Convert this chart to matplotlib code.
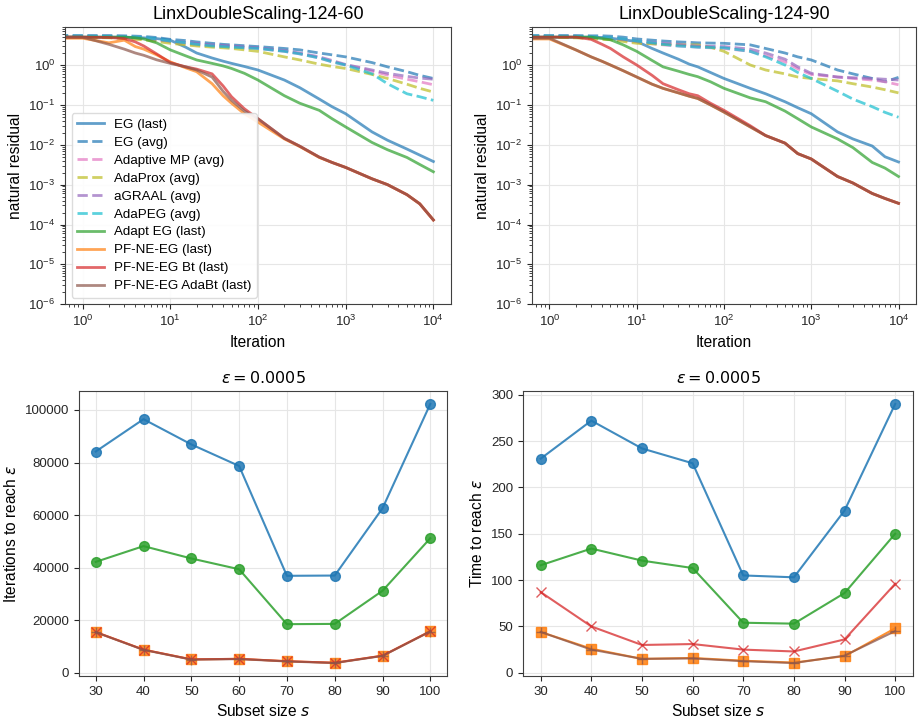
import numpy as np
import matplotlib
matplotlib.use("Agg")
from matplotlib import pyplot as plt

plt.rcParams['font.family'] = ['Liberation Sans', 'DejaVu Sans']
plt.rcParams['axes.edgecolor'] = '0.25'
plt.rcParams['xtick.color'] = '0.15'
plt.rcParams['ytick.color'] = '0.15'

# iteration checkpoints (0 is clipped on the log axis)
iters = [0, 1, 2, 3, 4, 5, 7, 10, 15, 20, 30, 40, 50, 70, 100, 200, 300, 500, 700,
         1000, 2000, 3000, 5000, 7000, 10000]

# LinxDoubleScaling-124-60
eg_last_60 = [5.0, 5.0, 5.0, 5.0, 4.9, 4.8, 4.6, 4.2, 2.8, 2.0, 1.5, 1.25, 1.1, 0.92, 0.75, 0.42, 0.27, 0.14, 0.09, 0.06, 0.021, 0.013, 0.0078, 0.0055, 0.0038]
eg_avg_60 = [5.5, 5.5, 5.5, 5.4, 5.3, 5.2, 4.9, 4.4, 4.1, 3.8, 3.5, 3.3, 3.2, 3.05, 2.9, 2.6, 2.4, 2.0, 1.8, 1.6, 1.15, 0.9, 0.68, 0.55, 0.46]
adamp_60 = [5.0, 5.0, 4.9, 4.8, 4.7, 4.6, 4.3, 3.8, 3.4, 3.2, 3.0, 2.9, 2.8, 2.7, 2.6, 2.2, 1.9, 1.5, 1.2, 1.0, 0.7, 0.56, 0.44, 0.38, 0.32]
adaprox_60 = [5.0, 5.0, 4.8, 4.6, 4.4, 4.3, 3.9, 3.5, 3.2, 3.0, 2.8, 2.7, 2.6, 2.4, 2.2, 1.6, 1.34, 1.05, 0.92, 0.82, 0.58, 0.46, 0.33, 0.26, 0.21]
agraal_60 = [5.2, 5.2, 5.1, 5.0, 4.9, 4.8, 4.4, 4.0, 3.7, 3.5, 3.2, 3.1, 3.0, 2.85, 2.7, 2.3, 2.0, 1.6, 1.3, 1.03, 0.75, 0.62, 0.52, 0.47, 0.44]
adapeg_60 = [5.3, 5.3, 5.2, 5.1, 5.0, 4.9, 4.5, 4.0, 3.6, 3.3, 3.0, 2.9, 2.8, 2.7, 2.6, 2.2, 1.9, 1.5, 1.2, 1.0, 0.6, 0.34, 0.19, 0.16, 0.13]
adapteg_60 = [5.0, 5.0, 5.0, 5.0, 4.8, 4.5, 3.6, 2.4, 1.7, 1.34, 1.1, 0.95, 0.82, 0.62, 0.42, 0.17, 0.11, 0.073, 0.045, 0.028, 0.0114, 0.0075, 0.0048, 0.0032, 0.0021]
pf_60 = [4.7, 4.7, 3.6, 4.2, 2.9, 2.5, 1.8, 1.2, 0.85, 0.68, 0.34, 0.17, 0.11, 0.06, 0.037, 0.014, 0.009, 0.0048, 0.0036, 0.0027, 0.0014, 0.001, 0.00056, 0.00033, 0.00013]
pfbt_60 = [5.0, 5.0, 4.9, 4.6, 3.8, 3.0, 1.9, 1.15, 0.9, 0.79, 0.6, 0.3, 0.16, 0.08, 0.045, 0.0145, 0.0092, 0.0049, 0.0036, 0.0027, 0.0014, 0.001, 0.00056, 0.00033, 0.00013]
pfada_60 = [5.0, 5.0, 3.3, 2.5, 2.0, 1.75, 1.35, 1.1, 0.9, 0.75, 0.5, 0.22, 0.13, 0.07, 0.045, 0.0145, 0.0092, 0.0049, 0.0036, 0.0027, 0.0014, 0.001, 0.00056, 0.00033, 0.00013]

# LinxDoubleScaling-124-90
eg_last_90 = [5.0, 5.0, 5.0, 5.0, 4.9, 4.7, 4.3, 3.9, 2.6, 2.0, 1.4, 1.05, 0.9, 0.65, 0.46, 0.26, 0.19, 0.12, 0.085, 0.06, 0.021, 0.014, 0.0093, 0.005, 0.0037]
eg_avg_90 = [5.5, 5.5, 5.5, 5.4, 5.4, 5.3, 5.0, 4.5, 4.2, 4.0, 3.8, 3.7, 3.6, 3.55, 3.5, 3.2, 2.6, 2.0, 1.6, 1.34, 0.75, 0.6, 0.46, 0.38, 0.49]
adamp_90 = [5.0, 5.0, 4.9, 4.8, 4.7, 4.6, 4.3, 3.8, 3.4, 3.2, 3.0, 2.9, 2.8, 2.7, 2.6, 2.2, 1.7, 1.2, 0.8, 0.58, 0.5, 0.46, 0.42, 0.38, 0.32]
adaprox_90 = [5.0, 5.0, 4.8, 4.6, 4.4, 4.3, 3.9, 3.5, 3.4, 3.3, 3.25, 3.2, 3.2, 2.8, 2.2, 1.0, 0.75, 0.6, 0.5, 0.46, 0.4, 0.34, 0.28, 0.24, 0.2]
agraal_90 = [5.2, 5.2, 5.1, 5.0, 4.9, 4.8, 4.4, 4.0, 3.7, 3.5, 3.3, 3.1, 3.0, 2.95, 2.9, 2.5, 2.0, 1.4, 0.9, 0.62, 0.5, 0.48, 0.46, 0.44, 0.42]
adapeg_90 = [5.3, 5.3, 5.2, 5.1, 5.0, 4.9, 4.5, 4.0, 3.6, 3.3, 3.0, 2.9, 2.8, 2.75, 2.7, 2.2, 1.6, 1.0, 0.65, 0.46, 0.22, 0.14, 0.09, 0.065, 0.049]
adapteg_90 = [5.0, 5.0, 5.0, 5.0, 4.6, 4.3, 3.2, 2.2, 1.3, 0.9, 0.7, 0.58, 0.51, 0.38, 0.26, 0.15, 0.12, 0.07, 0.045, 0.028, 0.014, 0.0085, 0.0036, 0.0026, 0.0016]
pf_90 = [4.5, 4.5, 2.4, 1.6, 1.24, 1.0, 0.72, 0.5, 0.33, 0.26, 0.2, 0.165, 0.145, 0.1, 0.066, 0.028, 0.017, 0.011, 0.006, 0.0044, 0.0016, 0.0011, 0.0006, 0.00045, 0.00034]
pfbt_90 = [5.0, 5.0, 5.0, 4.4, 3.3, 2.6, 1.6, 1.0, 0.55, 0.34, 0.24, 0.19, 0.17, 0.11, 0.073, 0.03, 0.017, 0.011, 0.006, 0.0044, 0.0016, 0.0011, 0.0006, 0.00045, 0.00034]
pfada_90 = [4.7, 4.7, 2.4, 1.6, 1.24, 1.0, 0.72, 0.5, 0.33, 0.26, 0.2, 0.165, 0.145, 0.1, 0.066, 0.028, 0.017, 0.011, 0.006, 0.0044, 0.0016, 0.0011, 0.0006, 0.00045, 0.00034]

# subset size experiment, eps = 0.0005
subset = [30, 40, 50, 60, 70, 80, 90, 100]
it_eg = [84200, 96500, 86900, 78700, 36900, 37000, 62600, 102300]
it_adapteg = [42200, 48200, 43500, 39400, 18500, 18600, 31200, 51200]
it_pf = [15500, 8800, 5100, 5300, 4400, 3800, 6500, 15800]
it_pfbt = [15500, 8800, 5100, 5300, 4400, 3800, 6500, 15800]
it_pfada = [15400, 8700, 5000, 5200, 4300, 3700, 6400, 15700]
t_eg = [231, 272, 242, 226, 105, 103, 175, 290]
t_adapteg = [116, 134, 121, 113, 54, 53, 86, 150]
t_pf = [44, 26, 15, 16, 13, 11, 18, 48]
t_pfbt = [87, 50, 30, 31, 25, 23, 36, 96]
t_pfada = [44, 25, 15, 15.5, 12.5, 10.5, 18.5, 45]

labels = ['EG (last)', 'EG (avg)', 'Adaptive MP (avg)', 'AdaProx (avg)', 'aGRAAL (avg)',
          'AdaPEG (avg)', 'Adapt EG (last)', 'PF-NE-EG (last)', 'PF-NE-EG Bt (last)',
          'PF-NE-EG AdaBt (last)']
colors = ['#1f77b4', '#1f77b4', '#e377c2', '#bcbd22', '#9467bd', '#17becf',
          '#2ca02c', '#ff7f0e', '#d62728', '#8c564b']
styles = ['-', '--', '--', '--', '--', '--', '-', '-', '-', '-']

fig = plt.figure(figsize=(9.24, 7.21), dpi=100)
ax1 = fig.add_axes([0.0703, 0.578, 0.4177, 0.3846])
ax2 = fig.add_axes([0.5758, 0.578, 0.4155, 0.3846])
ax3 = fig.add_axes([0.0855, 0.0624, 0.3983, 0.3953])
ax4 = fig.add_axes([0.566, 0.0624, 0.422, 0.3953])

panels = [(ax1, 'LinxDoubleScaling-124-60',
           [eg_last_60, eg_avg_60, adamp_60, adaprox_60, agraal_60, adapeg_60,
            adapteg_60, pf_60, pfbt_60, pfada_60]),
          (ax2, 'LinxDoubleScaling-124-90',
           [eg_last_90, eg_avg_90, adamp_90, adaprox_90, agraal_90, adapeg_90,
            adapteg_90, pf_90, pfbt_90, pfada_90])]

for ax, title, curves in panels:
    for y, lab, c, ls in zip(curves, labels, colors, styles):
        ax.plot(iters, y, ls, color=c, lw=2, alpha=0.7, label=lab)
    ax.set_xscale('log')
    ax.set_yscale('log')
    ax.set_xlim(10**-0.2, 10**4.2)
    ax.set_ylim(1e-6, 9)
    ax.set_title(title, fontsize=13)
    ax.set_xlabel('Iteration', fontsize=11.2)
    ax.set_ylabel('natural residual', fontsize=11.2)
    ax.tick_params(labelsize=9.5)
    ax.grid(True, color='#e6e6e6', lw=0.8)

ax1.legend(loc='lower left', fontsize=9.6, handlelength=2.0, edgecolor='0.85',
           framealpha=0.9, borderpad=0.4, labelspacing=0.42)

for ax, ylab, vals in [(ax3, r'Iterations to reach $\varepsilon$',
                        [it_eg, it_adapteg, it_pf, it_pfbt, it_pfada]),
                       (ax4, r'Time to reach $\varepsilon$',
                        [t_eg, t_adapteg, t_pf, t_pfbt, t_pfada])]:
    ax.plot(subset, vals[0], '-o', color='#1f77b4', ms=7, lw=1.5, alpha=0.85)
    ax.plot(subset, vals[1], '-o', color='#2ca02c', ms=7, lw=1.5, alpha=0.85)
    ax.plot(subset, vals[2], '-s', color='#ff7f0e', ms=7, lw=1.5, alpha=0.85)
    ax.plot(subset, vals[3], '-x', color='#d62728', ms=7, lw=1.5, alpha=0.75)
    ax.plot(subset, vals[4], '-+', color='#8c564b', ms=7, lw=1.5, alpha=0.75)
    ax.set_title(r'$\varepsilon = 0.0005$', fontsize=11.5)
    ax.set_xlabel(r'Subset size $s$', fontsize=11.2)
    ax.set_ylabel(ylab, fontsize=11.2)
    ax.set_xticks(subset)
    ax.tick_params(labelsize=9.5)
    ax.grid(True, color='#e6e6e6', lw=0.8)

fig.savefig('out.png', dpi=100)
